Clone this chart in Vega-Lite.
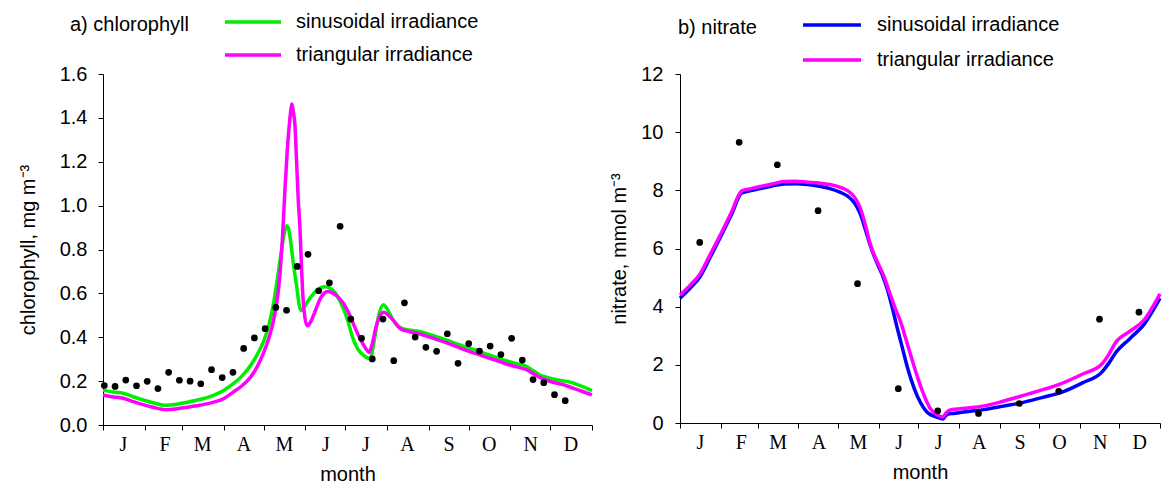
{
  "$schema": "https://vega.github.io/schema/vega-lite/v6.json",
  "padding": {"left": 18, "top": 15, "right": 5, "bottom": 2},
  "bounds": "flush",
  "spacing": 88,
  "config": {
    "view": {"stroke": null},
    "font": "Liberation Sans",
    "axis": {
      "domainColor": "black", "tickColor": "black", "labelColor": "black", "titleColor": "black",
      "labelFont": "Liberation Sans", "titleFont": "Liberation Sans",
      "labelFontSize": 20, "titleFontSize": 20, "titleFontWeight": "normal",
      "grid": false, "tickSize": 5, "domainWidth": 1, "tickWidth": 1,
      "labelFlush": false, "labelOverlap": false, "labelBound": false
    },
    "legend": {
      "labelColor": "black", "titleColor": "black",
      "labelFont": "Liberation Sans", "titleFont": "Liberation Sans",
      "labelFontSize": 20, "titleFontSize": 20, "titleFontWeight": "normal",
      "padding": 0, "labelLimit": 400, "titleLimit": 400
    }
  },
  "datasets": {
    "chl_obs": [
      {"day": 1, "value": 0.180}, {"day": 9, "value": 0.176}, {"day": 17, "value": 0.205}, {"day": 25, "value": 0.179},
      {"day": 33, "value": 0.199}, {"day": 41, "value": 0.166}, {"day": 49, "value": 0.240}, {"day": 57, "value": 0.204},
      {"day": 65, "value": 0.200}, {"day": 73, "value": 0.188}, {"day": 81, "value": 0.252}, {"day": 89, "value": 0.216},
      {"day": 97, "value": 0.240}, {"day": 105, "value": 0.349}, {"day": 113, "value": 0.397}, {"day": 121, "value": 0.439},
      {"day": 129, "value": 0.536}, {"day": 137, "value": 0.523}, {"day": 145, "value": 0.723}, {"day": 153, "value": 0.778},
      {"day": 161, "value": 0.612}, {"day": 169, "value": 0.648}, {"day": 177, "value": 0.906}, {"day": 185, "value": 0.483},
      {"day": 193, "value": 0.395}, {"day": 201, "value": 0.301}, {"day": 209, "value": 0.483}, {"day": 217, "value": 0.293},
      {"day": 225, "value": 0.557}, {"day": 233, "value": 0.401}, {"day": 241, "value": 0.354}, {"day": 249, "value": 0.336},
      {"day": 257, "value": 0.416}, {"day": 265, "value": 0.281}, {"day": 273, "value": 0.371}, {"day": 281, "value": 0.337},
      {"day": 289, "value": 0.360}, {"day": 297, "value": 0.321}, {"day": 305, "value": 0.395}, {"day": 313, "value": 0.296},
      {"day": 321, "value": 0.207}, {"day": 329, "value": 0.193}, {"day": 337, "value": 0.138}, {"day": 345, "value": 0.111}
    ],
    "chl_model": [
      {"series": "sinusoidal irradiance", "day": 0, "value": 0.158},
      {"series": "sinusoidal irradiance", "day": 8, "value": 0.150},
      {"series": "sinusoidal irradiance", "day": 15, "value": 0.145},
      {"series": "sinusoidal irradiance", "day": 22, "value": 0.130},
      {"series": "sinusoidal irradiance", "day": 30, "value": 0.114},
      {"series": "sinusoidal irradiance", "day": 38, "value": 0.100},
      {"series": "sinusoidal irradiance", "day": 46, "value": 0.090},
      {"series": "sinusoidal irradiance", "day": 55, "value": 0.095},
      {"series": "sinusoidal irradiance", "day": 63, "value": 0.104},
      {"series": "sinusoidal irradiance", "day": 72, "value": 0.116},
      {"series": "sinusoidal irradiance", "day": 82, "value": 0.134},
      {"series": "sinusoidal irradiance", "day": 90, "value": 0.157},
      {"series": "sinusoidal irradiance", "day": 97, "value": 0.187},
      {"series": "sinusoidal irradiance", "day": 104, "value": 0.225},
      {"series": "sinusoidal irradiance", "day": 110, "value": 0.270},
      {"series": "sinusoidal irradiance", "day": 115, "value": 0.320},
      {"series": "sinusoidal irradiance", "day": 120, "value": 0.384},
      {"series": "sinusoidal irradiance", "day": 124, "value": 0.460},
      {"series": "sinusoidal irradiance", "day": 127, "value": 0.544},
      {"series": "sinusoidal irradiance", "day": 130, "value": 0.660},
      {"series": "sinusoidal irradiance", "day": 133, "value": 0.787},
      {"series": "sinusoidal irradiance", "day": 135.5, "value": 0.880},
      {"series": "sinusoidal irradiance", "day": 137, "value": 0.908},
      {"series": "sinusoidal irradiance", "day": 138.5, "value": 0.895},
      {"series": "sinusoidal irradiance", "day": 140, "value": 0.840},
      {"series": "sinusoidal irradiance", "day": 142, "value": 0.740},
      {"series": "sinusoidal irradiance", "day": 144.6, "value": 0.630},
      {"series": "sinusoidal irradiance", "day": 146.5, "value": 0.545},
      {"series": "sinusoidal irradiance", "day": 148, "value": 0.522},
      {"series": "sinusoidal irradiance", "day": 150, "value": 0.535},
      {"series": "sinusoidal irradiance", "day": 153, "value": 0.565},
      {"series": "sinusoidal irradiance", "day": 157, "value": 0.597},
      {"series": "sinusoidal irradiance", "day": 161, "value": 0.620},
      {"series": "sinusoidal irradiance", "day": 165.5, "value": 0.630},
      {"series": "sinusoidal irradiance", "day": 169, "value": 0.625},
      {"series": "sinusoidal irradiance", "day": 172, "value": 0.612},
      {"series": "sinusoidal irradiance", "day": 176, "value": 0.575},
      {"series": "sinusoidal irradiance", "day": 179.5, "value": 0.529},
      {"series": "sinusoidal irradiance", "day": 183, "value": 0.470},
      {"series": "sinusoidal irradiance", "day": 186, "value": 0.405},
      {"series": "sinusoidal irradiance", "day": 190, "value": 0.348},
      {"series": "sinusoidal irradiance", "day": 195, "value": 0.315},
      {"series": "sinusoidal irradiance", "day": 199.5, "value": 0.302},
      {"series": "sinusoidal irradiance", "day": 202, "value": 0.370},
      {"series": "sinusoidal irradiance", "day": 204, "value": 0.440},
      {"series": "sinusoidal irradiance", "day": 206, "value": 0.505},
      {"series": "sinusoidal irradiance", "day": 209.5, "value": 0.548},
      {"series": "sinusoidal irradiance", "day": 212, "value": 0.530},
      {"series": "sinusoidal irradiance", "day": 216.5, "value": 0.478},
      {"series": "sinusoidal irradiance", "day": 220, "value": 0.452},
      {"series": "sinusoidal irradiance", "day": 225, "value": 0.437},
      {"series": "sinusoidal irradiance", "day": 232, "value": 0.430},
      {"series": "sinusoidal irradiance", "day": 239, "value": 0.422},
      {"series": "sinusoidal irradiance", "day": 246, "value": 0.408},
      {"series": "sinusoidal irradiance", "day": 254, "value": 0.392},
      {"series": "sinusoidal irradiance", "day": 263, "value": 0.372},
      {"series": "sinusoidal irradiance", "day": 271.5, "value": 0.354},
      {"series": "sinusoidal irradiance", "day": 279, "value": 0.340},
      {"series": "sinusoidal irradiance", "day": 286, "value": 0.324},
      {"series": "sinusoidal irradiance", "day": 294, "value": 0.308},
      {"series": "sinusoidal irradiance", "day": 301, "value": 0.293},
      {"series": "sinusoidal irradiance", "day": 309, "value": 0.280},
      {"series": "sinusoidal irradiance", "day": 316, "value": 0.267},
      {"series": "sinusoidal irradiance", "day": 321, "value": 0.248},
      {"series": "sinusoidal irradiance", "day": 326, "value": 0.228},
      {"series": "sinusoidal irradiance", "day": 331, "value": 0.218},
      {"series": "sinusoidal irradiance", "day": 336, "value": 0.210},
      {"series": "sinusoidal irradiance", "day": 343, "value": 0.202},
      {"series": "sinusoidal irradiance", "day": 349, "value": 0.195},
      {"series": "sinusoidal irradiance", "day": 357, "value": 0.177},
      {"series": "sinusoidal irradiance", "day": 365, "value": 0.157},
      {"series": "triangular irradiance", "day": 0, "value": 0.136},
      {"series": "triangular irradiance", "day": 8, "value": 0.128},
      {"series": "triangular irradiance", "day": 15, "value": 0.122},
      {"series": "triangular irradiance", "day": 22, "value": 0.108},
      {"series": "triangular irradiance", "day": 30, "value": 0.093},
      {"series": "triangular irradiance", "day": 38, "value": 0.080},
      {"series": "triangular irradiance", "day": 47, "value": 0.070},
      {"series": "triangular irradiance", "day": 55, "value": 0.074},
      {"series": "triangular irradiance", "day": 63, "value": 0.081},
      {"series": "triangular irradiance", "day": 72, "value": 0.090},
      {"series": "triangular irradiance", "day": 82, "value": 0.103},
      {"series": "triangular irradiance", "day": 90, "value": 0.120},
      {"series": "triangular irradiance", "day": 97, "value": 0.149},
      {"series": "triangular irradiance", "day": 104, "value": 0.180},
      {"series": "triangular irradiance", "day": 110, "value": 0.217},
      {"series": "triangular irradiance", "day": 115, "value": 0.265},
      {"series": "triangular irradiance", "day": 120, "value": 0.331},
      {"series": "triangular irradiance", "day": 124, "value": 0.400},
      {"series": "triangular irradiance", "day": 127, "value": 0.468},
      {"series": "triangular irradiance", "day": 130, "value": 0.570},
      {"series": "triangular irradiance", "day": 132, "value": 0.680},
      {"series": "triangular irradiance", "day": 134, "value": 0.860},
      {"series": "triangular irradiance", "day": 135.7, "value": 1.060},
      {"series": "triangular irradiance", "day": 137.5, "value": 1.250},
      {"series": "triangular irradiance", "day": 139, "value": 1.364},
      {"series": "triangular irradiance", "day": 140.3, "value": 1.440},
      {"series": "triangular irradiance", "day": 141, "value": 1.463},
      {"series": "triangular irradiance", "day": 142, "value": 1.430},
      {"series": "triangular irradiance", "day": 143.3, "value": 1.364},
      {"series": "triangular irradiance", "day": 144.5, "value": 1.200},
      {"series": "triangular irradiance", "day": 145.8, "value": 1.020},
      {"series": "triangular irradiance", "day": 147, "value": 0.900},
      {"series": "triangular irradiance", "day": 148.3, "value": 0.700},
      {"series": "triangular irradiance", "day": 149.5, "value": 0.560},
      {"series": "triangular irradiance", "day": 150.7, "value": 0.490},
      {"series": "triangular irradiance", "day": 152.5, "value": 0.452},
      {"series": "triangular irradiance", "day": 155, "value": 0.470},
      {"series": "triangular irradiance", "day": 157, "value": 0.498},
      {"series": "triangular irradiance", "day": 160, "value": 0.545},
      {"series": "triangular irradiance", "day": 162, "value": 0.574},
      {"series": "triangular irradiance", "day": 165, "value": 0.600},
      {"series": "triangular irradiance", "day": 168, "value": 0.609},
      {"series": "triangular irradiance", "day": 172, "value": 0.600},
      {"series": "triangular irradiance", "day": 177, "value": 0.574},
      {"series": "triangular irradiance", "day": 181, "value": 0.540},
      {"series": "triangular irradiance", "day": 184.4, "value": 0.498},
      {"series": "triangular irradiance", "day": 188, "value": 0.445},
      {"series": "triangular irradiance", "day": 192, "value": 0.392},
      {"series": "triangular irradiance", "day": 196, "value": 0.350},
      {"series": "triangular irradiance", "day": 198.5, "value": 0.331},
      {"series": "triangular irradiance", "day": 201, "value": 0.370},
      {"series": "triangular irradiance", "day": 204, "value": 0.452},
      {"series": "triangular irradiance", "day": 207, "value": 0.500},
      {"series": "triangular irradiance", "day": 209.7, "value": 0.514},
      {"series": "triangular irradiance", "day": 213, "value": 0.500},
      {"series": "triangular irradiance", "day": 216.7, "value": 0.478},
      {"series": "triangular irradiance", "day": 221.7, "value": 0.440},
      {"series": "triangular irradiance", "day": 229, "value": 0.425},
      {"series": "triangular irradiance", "day": 236.6, "value": 0.415},
      {"series": "triangular irradiance", "day": 245, "value": 0.398},
      {"series": "triangular irradiance", "day": 254, "value": 0.380},
      {"series": "triangular irradiance", "day": 263, "value": 0.360},
      {"series": "triangular irradiance", "day": 271.5, "value": 0.339},
      {"series": "triangular irradiance", "day": 279, "value": 0.324},
      {"series": "triangular irradiance", "day": 286, "value": 0.309},
      {"series": "triangular irradiance", "day": 294, "value": 0.294},
      {"series": "triangular irradiance", "day": 301, "value": 0.278},
      {"series": "triangular irradiance", "day": 309, "value": 0.265},
      {"series": "triangular irradiance", "day": 316, "value": 0.252},
      {"series": "triangular irradiance", "day": 321, "value": 0.235},
      {"series": "triangular irradiance", "day": 326, "value": 0.217},
      {"series": "triangular irradiance", "day": 331, "value": 0.204},
      {"series": "triangular irradiance", "day": 336, "value": 0.195},
      {"series": "triangular irradiance", "day": 343, "value": 0.185},
      {"series": "triangular irradiance", "day": 349, "value": 0.172},
      {"series": "triangular irradiance", "day": 357, "value": 0.155},
      {"series": "triangular irradiance", "day": 365, "value": 0.137}
    ],
    "no3_obs": [
      {"day": 15, "value": 6.21}, {"day": 45, "value": 9.65}, {"day": 74, "value": 8.88}, {"day": 105, "value": 7.30},
      {"day": 135, "value": 4.79}, {"day": 166, "value": 1.18}, {"day": 196, "value": 0.42}, {"day": 227, "value": 0.33},
      {"day": 258, "value": 0.67}, {"day": 288, "value": 1.09}, {"day": 319, "value": 3.57}, {"day": 349, "value": 3.81}
    ],
    "no3_model": [
      {"series": "sinusoidal irradiance", "day": 0, "value": 4.29},
      {"series": "sinusoidal irradiance", "day": 8, "value": 4.65},
      {"series": "sinusoidal irradiance", "day": 15, "value": 5.01},
      {"series": "sinusoidal irradiance", "day": 23, "value": 5.70},
      {"series": "sinusoidal irradiance", "day": 31, "value": 6.41},
      {"series": "sinusoidal irradiance", "day": 39, "value": 7.15},
      {"series": "sinusoidal irradiance", "day": 47, "value": 7.91},
      {"series": "sinusoidal irradiance", "day": 54, "value": 7.99},
      {"series": "sinusoidal irradiance", "day": 61, "value": 8.06},
      {"series": "sinusoidal irradiance", "day": 70, "value": 8.15},
      {"series": "sinusoidal irradiance", "day": 79, "value": 8.22},
      {"series": "sinusoidal irradiance", "day": 88, "value": 8.23},
      {"series": "sinusoidal irradiance", "day": 97, "value": 8.20},
      {"series": "sinusoidal irradiance", "day": 106, "value": 8.14},
      {"series": "sinusoidal irradiance", "day": 114, "value": 8.06},
      {"series": "sinusoidal irradiance", "day": 122, "value": 7.93},
      {"series": "sinusoidal irradiance", "day": 128, "value": 7.78},
      {"series": "sinusoidal irradiance", "day": 133, "value": 7.55},
      {"series": "sinusoidal irradiance", "day": 137, "value": 7.20},
      {"series": "sinusoidal irradiance", "day": 141, "value": 6.65},
      {"series": "sinusoidal irradiance", "day": 145, "value": 6.06},
      {"series": "sinusoidal irradiance", "day": 148, "value": 5.70},
      {"series": "sinusoidal irradiance", "day": 151, "value": 5.38},
      {"series": "sinusoidal irradiance", "day": 154.5, "value": 5.02},
      {"series": "sinusoidal irradiance", "day": 158, "value": 4.55},
      {"series": "sinusoidal irradiance", "day": 161.5, "value": 3.95},
      {"series": "sinusoidal irradiance", "day": 165, "value": 3.30},
      {"series": "sinusoidal irradiance", "day": 169, "value": 2.60},
      {"series": "sinusoidal irradiance", "day": 173, "value": 1.90},
      {"series": "sinusoidal irradiance", "day": 178, "value": 1.20},
      {"series": "sinusoidal irradiance", "day": 183, "value": 0.69},
      {"series": "sinusoidal irradiance", "day": 187, "value": 0.42},
      {"series": "sinusoidal irradiance", "day": 190, "value": 0.30},
      {"series": "sinusoidal irradiance", "day": 194, "value": 0.22},
      {"series": "sinusoidal irradiance", "day": 198, "value": 0.16},
      {"series": "sinusoidal irradiance", "day": 200, "value": 0.14},
      {"series": "sinusoidal irradiance", "day": 202, "value": 0.25},
      {"series": "sinusoidal irradiance", "day": 204, "value": 0.31},
      {"series": "sinusoidal irradiance", "day": 208, "value": 0.33},
      {"series": "sinusoidal irradiance", "day": 213, "value": 0.36},
      {"series": "sinusoidal irradiance", "day": 222, "value": 0.41},
      {"series": "sinusoidal irradiance", "day": 231, "value": 0.46},
      {"series": "sinusoidal irradiance", "day": 246, "value": 0.58},
      {"series": "sinusoidal irradiance", "day": 261, "value": 0.71},
      {"series": "sinusoidal irradiance", "day": 276, "value": 0.88},
      {"series": "sinusoidal irradiance", "day": 291, "value": 1.07},
      {"series": "sinusoidal irradiance", "day": 306, "value": 1.38},
      {"series": "sinusoidal irradiance", "day": 321, "value": 1.76},
      {"series": "sinusoidal irradiance", "day": 326, "value": 2.05},
      {"series": "sinusoidal irradiance", "day": 331, "value": 2.40},
      {"series": "sinusoidal irradiance", "day": 342, "value": 2.90},
      {"series": "sinusoidal irradiance", "day": 353, "value": 3.40},
      {"series": "sinusoidal irradiance", "day": 365, "value": 4.29},
      {"series": "triangular irradiance", "day": 0, "value": 4.40},
      {"series": "triangular irradiance", "day": 8, "value": 4.75},
      {"series": "triangular irradiance", "day": 15, "value": 5.11},
      {"series": "triangular irradiance", "day": 23, "value": 5.80},
      {"series": "triangular irradiance", "day": 31, "value": 6.50},
      {"series": "triangular irradiance", "day": 39, "value": 7.24},
      {"series": "triangular irradiance", "day": 47, "value": 7.98},
      {"series": "triangular irradiance", "day": 54, "value": 8.06},
      {"series": "triangular irradiance", "day": 61, "value": 8.13},
      {"series": "triangular irradiance", "day": 70, "value": 8.22},
      {"series": "triangular irradiance", "day": 79, "value": 8.30},
      {"series": "triangular irradiance", "day": 88, "value": 8.31},
      {"series": "triangular irradiance", "day": 97, "value": 8.28},
      {"series": "triangular irradiance", "day": 106, "value": 8.25},
      {"series": "triangular irradiance", "day": 114, "value": 8.20},
      {"series": "triangular irradiance", "day": 122, "value": 8.10},
      {"series": "triangular irradiance", "day": 128, "value": 7.97},
      {"series": "triangular irradiance", "day": 133, "value": 7.75},
      {"series": "triangular irradiance", "day": 137, "value": 7.40},
      {"series": "triangular irradiance", "day": 141, "value": 6.80},
      {"series": "triangular irradiance", "day": 145, "value": 6.10},
      {"series": "triangular irradiance", "day": 148, "value": 5.75},
      {"series": "triangular irradiance", "day": 151, "value": 5.45},
      {"series": "triangular irradiance", "day": 155, "value": 5.05},
      {"series": "triangular irradiance", "day": 160, "value": 4.40},
      {"series": "triangular irradiance", "day": 164, "value": 3.90},
      {"series": "triangular irradiance", "day": 168, "value": 3.45},
      {"series": "triangular irradiance", "day": 171, "value": 3.00},
      {"series": "triangular irradiance", "day": 175, "value": 2.40},
      {"series": "triangular irradiance", "day": 179, "value": 1.80},
      {"series": "triangular irradiance", "day": 183, "value": 1.26},
      {"series": "triangular irradiance", "day": 187, "value": 0.80},
      {"series": "triangular irradiance", "day": 190, "value": 0.52},
      {"series": "triangular irradiance", "day": 194, "value": 0.33},
      {"series": "triangular irradiance", "day": 198, "value": 0.23},
      {"series": "triangular irradiance", "day": 200, "value": 0.21},
      {"series": "triangular irradiance", "day": 202, "value": 0.33},
      {"series": "triangular irradiance", "day": 205, "value": 0.44},
      {"series": "triangular irradiance", "day": 208, "value": 0.47},
      {"series": "triangular irradiance", "day": 213, "value": 0.49},
      {"series": "triangular irradiance", "day": 222, "value": 0.53},
      {"series": "triangular irradiance", "day": 230, "value": 0.58},
      {"series": "triangular irradiance", "day": 245, "value": 0.74},
      {"series": "triangular irradiance", "day": 259, "value": 0.92},
      {"series": "triangular irradiance", "day": 274, "value": 1.12},
      {"series": "triangular irradiance", "day": 289, "value": 1.34},
      {"series": "triangular irradiance", "day": 305, "value": 1.66},
      {"series": "triangular irradiance", "day": 321, "value": 2.04},
      {"series": "triangular irradiance", "day": 326, "value": 2.35},
      {"series": "triangular irradiance", "day": 331, "value": 2.75},
      {"series": "triangular irradiance", "day": 342, "value": 3.15},
      {"series": "triangular irradiance", "day": 353, "value": 3.55},
      {"series": "triangular irradiance", "day": 365, "value": 4.44}
    ]
  },
  "hconcat": [
    {
      "width": 489,
      "height": 351,
      "layer": [
        {
          "data": {"name": "chl_model"},
          "mark": {"type": "line", "interpolate": "monotone", "strokeWidth": 3.5},
          "encoding": {
            "x": {
              "field": "day", "type": "quantitative",
              "scale": {"domain": [0, 365], "nice": false, "zero": false},
              "title": "month",
              "axis": {
                "values": [0, 31, 59, 90, 120, 151, 181, 212, 243, 273, 304, 334, 365],
                "tickCount": 30,
                "labelExpr": "['J','F','M','A','M','J','J','A','S','O','N','D',''][indexof([0,31,59,90,120,151,181,212,243,273,304,334,365], datum.value)]",
                "labelFont": "Liberation Serif", "labelFontSize": 20, "labelOverlap": false, "labelFlush": false,
                "labelBound": false,
                "labelOffset": 20, "labelBaseline": "alphabetic", "labelPadding": 20,
                "titleY": 55, "titleBaseline": "alphabetic"
              }
            },
            "y": {
              "field": "value", "type": "quantitative",
              "scale": {"domain": [0, 1.6], "nice": false},
              "title": "chlorophyll, mg m⁻³",
              "axis": {
                "values": [0, 0.2, 0.4, 0.6, 0.8, 1.0, 1.2, 1.4, 1.6],
                "tickCount": 20,
                "format": ".1f", "labelPadding": 11, "labelOverlap": false, "labelFlush": false,
                "titleX": -69, "titleBaseline": "alphabetic"
              }
            },
            "color": {
              "field": "series", "type": "nominal",
              "scale": {"domain": ["sinusoidal irradiance", "triangular irradiance"], "range": ["#00ee00", "#ff00ff"]},
              "legend": {
                "orient": "none", "legendX": -33, "legendY": -59,
                "title": "a) chlorophyll", "titleOrient": "left", "titlePadding": 34,
                "titleAnchor": "start", "titleBaseline": "top",
                "symbolType": "stroke", "symbolSize": 3136, "symbolStrokeWidth": 3.5,
                "clipHeight": 14, "rowPadding": 13, "labelOffset": 13, "direction": "vertical"
              }
            }
          }
        },
        {
          "data": {"name": "chl_obs"},
          "mark": {"type": "circle", "color": "black", "size": 45, "opacity": 1},
          "encoding": {
            "x": {"field": "day", "type": "quantitative"},
            "y": {"field": "value", "type": "quantitative"}
          }
        }
      ]
    },
    {
      "width": 480,
      "height": 349,
      "layer": [
        {
          "data": {"name": "no3_model"},
          "mark": {"type": "line", "interpolate": "monotone", "strokeWidth": 3.5},
          "encoding": {
            "x": {
              "field": "day", "type": "quantitative",
              "scale": {"domain": [0, 365], "nice": false, "zero": false},
              "title": "month",
              "axis": {
                "values": [0, 31, 59, 90, 120, 151, 181, 212, 243, 273, 304, 334, 365],
                "tickCount": 30,
                "labelExpr": "['J','F','M','A','M','J','J','A','S','O','N','D',''][indexof([0,31,59,90,120,151,181,212,243,273,304,334,365], datum.value)]",
                "labelFont": "Liberation Serif", "labelFontSize": 20, "labelOverlap": false, "labelFlush": false,
                "labelBound": false,
                "labelOffset": 20, "labelBaseline": "alphabetic", "labelPadding": 20,
                "titleY": 55, "titleBaseline": "alphabetic"
              }
            },
            "y": {
              "field": "value", "type": "quantitative",
              "scale": {"domain": [0, 12], "nice": false},
              "title": "nitrate, mmol m⁻³",
              "axis": {
                "values": [0, 2, 4, 6, 8, 10, 12],
                "tickCount": 20,
                "format": "d",
                "labelPadding": 12, "labelOverlap": false, "labelFlush": false,
                "titleX": -55, "titleBaseline": "alphabetic"
              }
            },
            "color": {
              "field": "series", "type": "nominal",
              "scale": {"domain": ["sinusoidal irradiance", "triangular irradiance"], "range": ["#0000ff", "#ff00ff"]},
              "legend": {
                "orient": "none", "legendX": -2, "legendY": -56,
                "title": "b) nitrate", "titleOrient": "left", "titlePadding": 44,
                "titleAnchor": "start", "titleBaseline": "top",
                "symbolType": "stroke", "symbolSize": 3364, "symbolStrokeWidth": 3.5,
                "clipHeight": 14, "rowPadding": 15, "labelOffset": 14, "direction": "vertical"
              }
            }
          }
        },
        {
          "data": {"name": "no3_obs"},
          "mark": {"type": "circle", "color": "black", "size": 45, "opacity": 1},
          "encoding": {
            "x": {"field": "day", "type": "quantitative"},
            "y": {"field": "value", "type": "quantitative"}
          }
        }
      ]
    }
  ],
  "resolve": {"scale": {"color": "independent"}, "legend": {"color": "independent"}}
}
